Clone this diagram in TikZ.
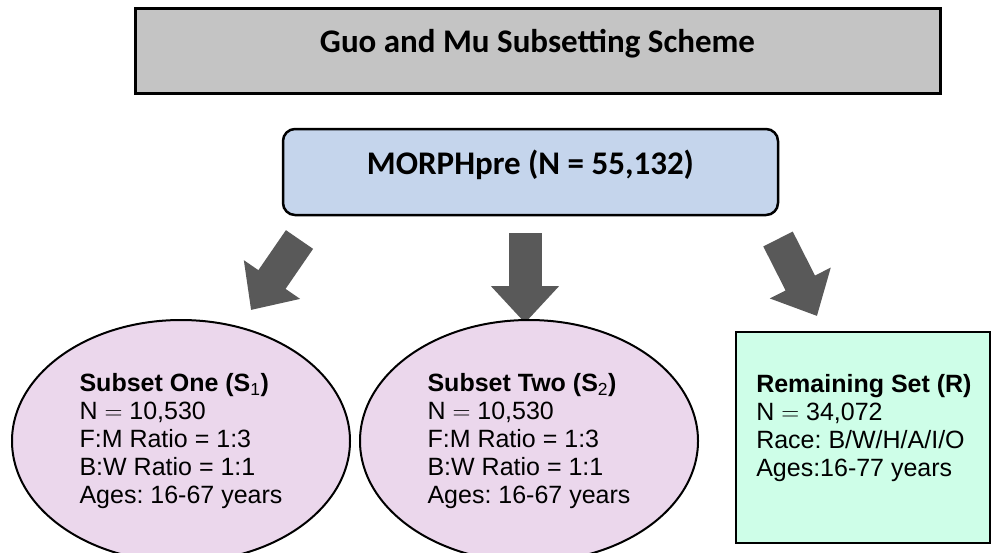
\documentclass[tikz,border=0pt]{standalone}
\usepackage{fontspec}
\setmainfont{Liberation Sans}
\newfontfamily\calibri{Carlito}
\usetikzlibrary{shapes.geometric, arrows.meta}
\frenchspacing

\definecolor{titlegray}{RGB}{196,196,196}
\definecolor{morphblue}{RGB}{197,213,236}
\definecolor{subpink}{RGB}{235,215,236}
\definecolor{remgreen}{RGB}{206,254,232}
\definecolor{arrowgray}{RGB}{89,89,89}

\begin{document}
\begin{tikzpicture}[x=1pt, y=-1pt,
  every node/.style={font=\fontsize{25}{28}\selectfont},
  titlebox/.style={draw=black, line width=3pt, fill=titlegray,
    minimum width=805pt, minimum height=85pt, inner sep=0pt},
  morphbox/.style={draw=black, line width=2.5pt, fill=morphblue, rounded corners=12pt,
    minimum width=495pt, minimum height=86pt, inner sep=0pt},
  headtext/.style={font=\calibri\bfseries\fontsize{33}{38}\selectfont},
  subset/.style={ellipse, draw=black, line width=2pt, fill=subpink,
    minimum width=338pt, minimum height=242pt, inner sep=0pt, align=left},
  remainbox/.style={draw=black, line width=2.5pt, fill=remgreen,
    minimum width=254pt, minimum height=211pt, inner sep=0pt},
  bigarrow/.style={draw=arrowgray, line width=33pt,
    -{Triangle[width=66pt, length=37pt]}}
]
  \useasboundingbox (0,0) rectangle (992,552);

  % title and full set
  \node[titlebox] (title) at (537.5,50.5) {};
  \node[headtext] (titletxt) at ([yshift=7pt]title.center) {Guo and Mu Subsetting Scheme};

  \node[morphbox] (morph) at (530.5,172) {};
  \node[headtext] (morphtxt) at ([yshift=7pt]morph.center) {MORPHpre (N = 55,132)};

  % arrows
  \coordinate (aone) at (299.5,239.5);
  \coordinate (aonetip) at (251,310);
  \coordinate (atwo) at (525,233);
  \coordinate (atwotip) at (525,323);
  \coordinate (arem) at (778,239);
  \coordinate (aremtip) at (817,316);
  \draw[bigarrow] (aone) -- (aonetip);
  \draw[bigarrow] (atwo) -- (atwotip);
  \draw[bigarrow] (arem) -- (aremtip);

  % subsets
  \node[subset] (sone) at (181,441) {\textbf{Subset One (S\textsubscript{\normalfont 1})}\\
    N \(=\) 10,530\\ F:M Ratio = 1:3\\ B:W Ratio = 1:1\\ Ages: 16-67 years};
  \node[subset] (stwo) at (529,441) {\textbf{Subset Two (S\textsubscript{\normalfont 2})}\\
    N \(=\) 10,530\\ F:M Ratio = 1:3\\ B:W Ratio = 1:1\\ Ages: 16-67 years};

  \node[remainbox] (remain) at (863,437.5) {};
  \node[anchor=west, align=left] (remaintxt) at ([xshift=18pt, yshift=9pt]remain.west)
    {\textbf{Remaining Set (R)}\\ N \(=\) 34,072\\ Race: B/W/H/A/I/O\\ Ages:16-77 years};
\end{tikzpicture}
\end{document}
